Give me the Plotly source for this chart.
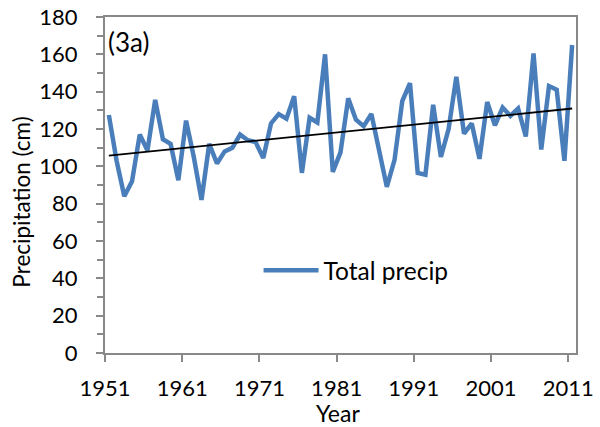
import numpy as np
import plotly.graph_objects as go

years = list(range(1951, 2012))
precip = [127.5, 103, 84, 92, 117, 108.5, 135.6, 114.5, 112, 92.5,
          124.5, 105, 82, 112, 101.5, 108, 110, 117, 114, 113,
          104.5, 123, 128, 125.5, 137.5, 96.5, 126, 123.5, 160, 97,
          107.5, 136.5, 125, 121.5, 128, 107, 89, 103.5, 135, 144.5,
          96.5, 95.5, 133, 105, 120, 148, 117.5, 123, 104, 134.5,
          122, 131.5, 127, 131, 116, 160.5, 109, 143, 141, 103,
          165]
x_ticks = [1951, 1961, 1971, 1981, 1991, 2001, 2011]

# points sit mid-year on the axis
xs = [y + 0.5 for y in years]
slope, icpt = np.polyfit(xs, precip, 1)
trend = [slope * x + icpt for x in xs]

font = "Lato, 'Open Sans', sans-serif"
grey = "#898989"

fig = go.Figure()
fig.add_trace(go.Scatter(x=xs, y=precip, mode="lines", name="Total precip",
                         line=dict(color="#4a7ebb", width=4.5)))
fig.add_trace(go.Scatter(x=xs, y=trend, mode="lines", showlegend=False,
                         line=dict(color="black", width=1.8)))

fig.update_layout(
    width=600, height=427,
    margin=dict(l=105, r=24, t=17, b=74),
    paper_bgcolor="white", plot_bgcolor="white",
    font=dict(family=font, size=22, color="black"),
    showlegend=True,
    legend=dict(x=0.326, y=0.246, yanchor="middle", xanchor="left",
                bgcolor="rgba(0,0,0,0)", font=dict(size=24.5), itemwidth=55),
    xaxis=dict(range=[1951, 2012], tickvals=x_ticks, ticktext=[str(v) for v in x_ticks],
               showgrid=False, zeroline=False, showline=True, mirror=True,
               linecolor=grey, linewidth=2, ticks="outside", ticklen=7,
               tickwidth=2, tickcolor=grey, ticklabelstandoff=8, automargin=False),
    yaxis=dict(range=[0, 180], dtick=20, showgrid=False, zeroline=False,
               showline=True, mirror=True, linecolor=grey, linewidth=2,
               ticks="outside", ticklen=7, tickwidth=2, tickcolor=grey,
               ticklabelstandoff=14, automargin=False,
               minor=dict(dtick=10, ticks="outside", ticklen=6, tickwidth=2,
                          tickcolor=grey)),
    annotations=[
        dict(text="(3a)", x=0.003, y=0.925, xref="paper", yref="paper",
             xanchor="left", yanchor="middle", showarrow=False, font=dict(size=26)),
        dict(text="Year", x=0.495, y=-0.179, xref="paper", yref="paper",
             xanchor="center", yanchor="middle", showarrow=False, font=dict(size=23)),
        dict(text="Precipitation (cm)", x=-0.178, y=0.448, xref="paper", yref="paper",
             xanchor="center", yanchor="middle", textangle=-90, showarrow=False,
             font=dict(size=22.5)),
    ],
)

fig.write_html("out.html", config={"displayModeBar": False})

# drop the browser's default body margin so the figure sits at 0,0
with open("out.html", encoding="utf-8") as f:
    page = f.read()
page = page.replace("<head>", "<head><style>html,body{margin:0;padding:0;overflow:hidden}</style>", 1)
with open("out.html", "w", encoding="utf-8") as f:
    f.write(page)
